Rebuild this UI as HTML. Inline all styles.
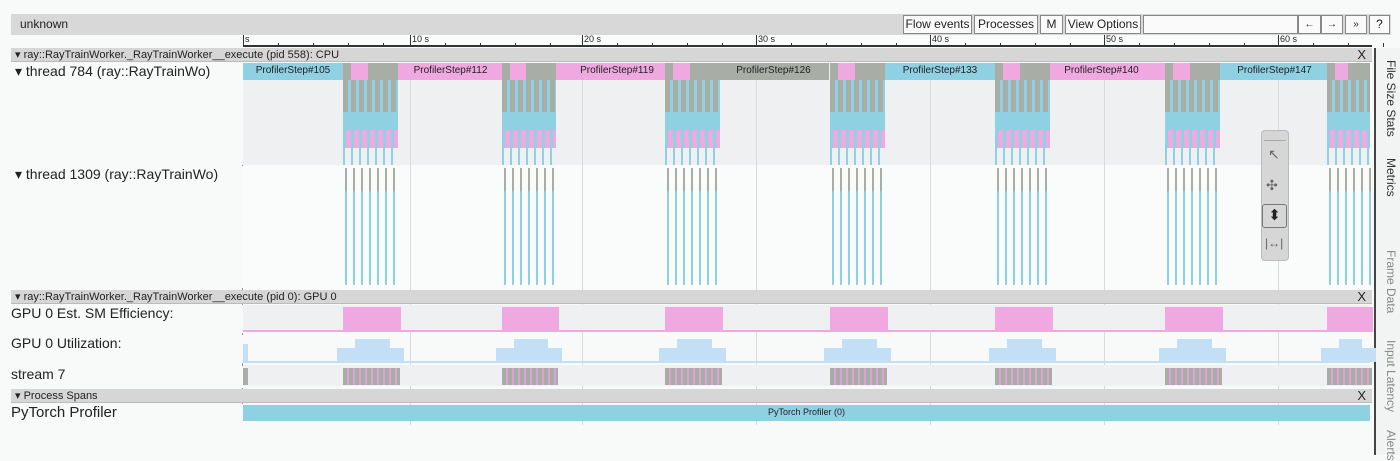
<!DOCTYPE html>
<html><head><meta charset="utf-8"><style>
*{margin:0;padding:0;box-sizing:border-box}
body{width:1400px;height:455px;background:#f8f9f9;position:relative;overflow:hidden;font-family:"Liberation Sans",sans-serif;color:#222}
.a{position:absolute}
.btn{position:absolute;top:15px;height:19px;border:1px solid #888;background:#fafafa;font-size:12px;line-height:17px;text-align:center;color:#222}
.hdr{position:absolute;left:11px;width:1361px;height:14px;background:#d6d6d6;font-size:11px;line-height:14px;padding-left:4px;border-bottom:1px solid #bbb}
.x{position:absolute;right:6px;top:0;font-size:13px}
.lbl{position:absolute;left:11px;width:232px;font-size:14px;background:#f8f9f9}
.side{position:absolute;left:1374px;width:26px;top:48px;height:407px;border-left:2px solid #444;background:#f2f3f3}
.st{position:absolute;left:1378px;transform-origin:0 0;transform:rotate(90deg) translateY(-20px);font-size:12px;white-space:nowrap;color:#333}
.step{position:absolute;top:63px;height:17px;font-size:10px;line-height:15px;text-align:center;color:#222}
.gl{position:absolute;width:1px;background:#d8dadc}
</style></head><body>
<div class="a" style="left:11px;top:14px;width:1380px;height:21px;background:#d8d8d8"></div>
<div class="a" style="left:20px;top:17px;font-size:12px">unknown</div>
<div class="btn" style="left:903px;width:69px">Flow events</div>
<div class="btn" style="left:974px;width:64px">Processes</div>
<div class="btn" style="left:1040px;width:23px">M</div>
<div class="btn" style="left:1065px;width:76px">View Options</div>
<div class="btn" style="left:1143px;width:155px"></div>
<div class="btn" style="left:1298px;width:23px;font-size:10px">←</div>
<div class="btn" style="left:1321px;width:22px;font-size:10px">→</div>
<div class="btn" style="left:1345px;width:22px;font-size:10px">»</div>
<div class="btn" style="left:1369px;width:21px">?</div>
<!-- ruler -->
<div class="a" style="left:243px;top:35px;width:1129px;height:12px;background:#fafbfb;border-bottom:2px solid #333"></div>
<div id="ruler"></div>
<div class="side"></div>
<div class="st" style="top:60px">File Size Stats</div>
<div class="st" style="top:158px">Metrics</div>
<div class="st" style="top:250px;color:#888">Frame Data</div>
<div class="st" style="top:340px;color:#888">Input Latency</div>
<div class="st" style="top:430px;color:#888">Alerts</div>
<!-- CPU -->
<div class="hdr" style="top:48px">▾ ray::RayTrainWorker._RayTrainWorker__execute (pid 558): CPU<span class="x">X</span></div>
<div class="a" style="left:243px;top:63px;width:1127px;height:102px;background:#eef0f1"></div>
<div class="a" style="left:243px;top:165px;width:1127px;height:124px;background:#fafbfb"></div>
<div class="a" style="left:242px;top:63px;width:1px;height:362px;background:#999"></div>
<div class="lbl" style="top:63px;height:102px;padding-left:4px;font-size:14px">▾ thread 784 (ray::RayTrainWo)</div>
<div class="lbl" style="top:166px;height:122px;padding-left:4px">▾ thread 1309 (ray::RayTrainWo)</div>
<div id="grid"></div>
<div class="step" style="left:243px;width:100px;background:#8fd0e3">ProfilerStep#105</div>
<div class="step" style="left:396px;width:109px;background:#f0a8e0">ProfilerStep#112</div>
<div class="step" style="left:550px;width:134px;background:#f0a8e0">ProfilerStep#119</div>
<div class="step" style="left:718px;width:111px;background:#a8aea6">ProfilerStep#126</div>
<div class="step" style="left:883px;width:114px;background:#8fd0e3">ProfilerStep#133</div>
<div class="step" style="left:1034px;width:135px;background:#f0a8e0">ProfilerStep#140</div>
<div class="step" style="left:1220px;width:109px;background:#8fd0e3">ProfilerStep#147</div>
<div id="cl"></div>
<!-- GPU -->
<div class="hdr" style="top:290px">▾ ray::RayTrainWorker._RayTrainWorker__execute (pid 0): GPU 0<span class="x">X</span></div>
<div class="lbl" style="top:305px;height:28px">GPU 0 Est. SM Efficiency:</div>
<div class="lbl" style="top:335px;height:28px">GPU 0 Utilization:</div>
<div class="lbl" style="top:366px;height:22px">stream 7</div>
<div class="a" style="left:243px;top:305px;width:1127px;height:27px;background:#eef0f1"></div>
<div class="a" style="left:243px;top:330px;width:1127px;height:2px;background:#f0a8e0"></div>
<div class="a" style="left:243px;top:365px;width:1127px;height:21px;background:#eef0f1"></div>
<div class="a" style="left:243px;top:361px;width:1127px;height:2px;background:#c2dff5"></div>
<div id="gpu"></div>
<div class="hdr" style="top:389px">▾ Process Spans<span class="x">X</span></div>
<div class="lbl" style="top:404px;height:22px;font-size:15px">PyTorch Profiler</div>
<div class="a" style="left:243px;top:405px;width:1127px;height:16px;background:#8fd0e3;font-size:9px;text-align:center;line-height:14px">PyTorch Profiler (0)</div>
<!-- toolbox -->
<div class="a" style="left:1261px;top:130px;width:28px;height:131px;background:#d6d6d6;border:1px solid #bbb;border-radius:4px"></div>
<div class="a" style="left:1264px;top:133px;width:22px;height:8px;border-bottom:1px solid #aaa"></div>
<div class="a" style="left:1268px;top:146px;font-size:14px;color:#666">↖</div>
<div class="a" style="left:1266px;top:177px;font-size:14px;color:#666">✣</div>
<div class="a" style="left:1262px;top:204px;width:25px;height:24px;border:1px solid #777;border-radius:3px;text-align:center;font-size:15px;line-height:22px;color:#222">⬍</div>
<div class="a" style="left:1265px;top:236px;font-size:12px;color:#666">|↔|</div>
<script>
var cls=[[343,398],[502,556],[665,720],[830,885],[995,1050],[1165,1220],[1327,1370]];
var h='';
var ticks=[[243,'s'],[410,'10 s'],[582,'20 s'],[756,'30 s'],[930,'40 s'],[1104,'50 s'],[1278,'60 s']];
var r='';
ticks.forEach(function(t){r+='<div class="a" style="left:'+t[0]+'px;top:35px;width:1px;height:12px;background:#333"></div><div class="a" style="left:'+(t[0]+2)+'px;top:34px;font-size:9px">'+t[1]+'</div>';
 for(var k=1;k<5;k++)r+='<div class="a" style="left:'+(t[0]+k*35)+'px;top:43px;width:1px;height:4px;background:#333"></div>';
 if(t[0]>243)h+='<div class="gl" style="left:'+t[0]+'px;top:63px;height:362px"></div>';});
document.getElementById('ruler').innerHTML=r;
document.getElementById('grid').innerHTML=h;
var c='',g='';
cls.forEach(function(p,i){var a=p[0],b=p[1],w=b-a;
 c+='<div class="a" style="left:'+a+'px;top:63px;width:'+w+'px;height:17px;background:#a8aea6"></div>';
 c+='<div class="a" style="left:'+(a+8)+'px;top:63px;width:'+Math.round(w*0.3)+'px;height:17px;background:#f0a8e0"></div>';
 c+='<div class="a" style="left:'+a+'px;top:80px;width:'+w+'px;height:32px;background:repeating-linear-gradient(90deg,#a8aea6 0 5px,#8fd0e3 5px 8px)"></div>';
 c+='<div class="a" style="left:'+a+'px;top:112px;width:'+w+'px;height:18px;background:#8fd0e3"></div>';
 c+='<div class="a" style="left:'+a+'px;top:130px;width:'+w+'px;height:18px;background:repeating-linear-gradient(90deg,#8fd0e3 0 3px,#f0a8e0 3px 8px)"></div>';
 c+='<div class="a" style="left:'+a+'px;top:148px;width:'+w+'px;height:17px;background:repeating-linear-gradient(90deg,#8fd0e3 0 2px,transparent 2px 8px)"></div>';
 for(var k=0;k<7&&a+2+k*8<b;k++){var x=a+2+k*8;
  c+='<div class="a" style="left:'+x+'px;top:168px;width:2px;height:117px;background:linear-gradient(#a8aea6 0 20%,#8fd0e3 20% 100%)"></div>';}
 g+='<div class="a" style="left:'+a+'px;top:307px;width:'+(w+3)+'px;height:25px;background:#f0a8e0"></div>';
 g+='<div class="a" style="left:'+(a-6)+'px;top:348px;width:'+(w+12)+'px;height:14px;background:#c2dff5"></div>';
 g+='<div class="a" style="left:'+(a+12)+'px;top:339px;width:'+(w-20)+'px;height:10px;background:#c2dff5"></div>';
 g+='<div class="a" style="left:'+a+'px;top:368px;width:'+(w+2)+'px;height:17px;background:repeating-linear-gradient(90deg,#a8aea6 0 4px,#e0a0d8 4px 6px)"></div>';
});
g+='<div class="a" style="left:243px;top:344px;width:5px;height:18px;background:#c2dff5"></div><div class="a" style="left:243px;top:368px;width:5px;height:17px;background:#a8aea6"></div>';
document.getElementById('cl').innerHTML=c;
document.getElementById('gpu').innerHTML=g;
</script>
</body></html>
